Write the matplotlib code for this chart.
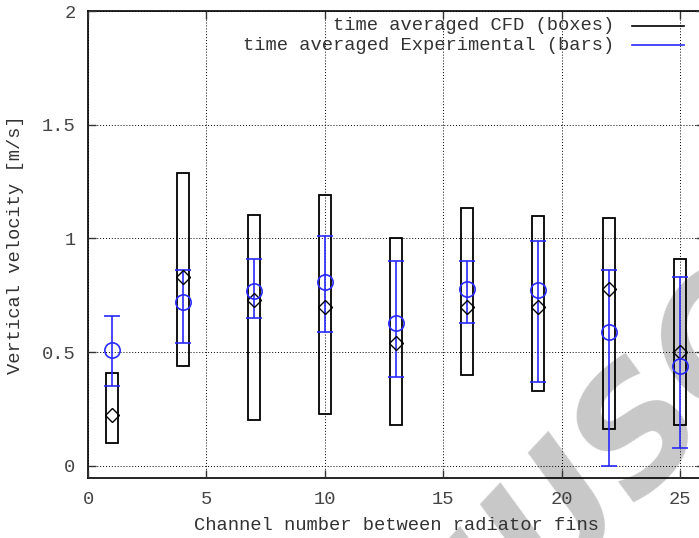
import matplotlib

matplotlib.use("Agg")

import matplotlib.pyplot as plt
from matplotlib.lines import Line2D
from matplotlib.patches import Rectangle

# channel positions
channels = [1, 4, 7, 10, 13, 16, 19, 22, 25]

# CFD (boxes): min, max, mean
cfd_min = [0.10, 0.44, 0.20, 0.23, 0.18, 0.40, 0.33, 0.163, 0.18]
cfd_max = [0.41, 1.286, 1.105, 1.19, 1.00, 1.135, 1.097, 1.09, 0.91]
cfd_mean = [0.225, 0.83, 0.73, 0.70, 0.54, 0.70, 0.70, 0.78, 0.50]

# Experimental (bars): mean, low, high
exp_mean = [0.51, 0.72, 0.77, 0.81, 0.63, 0.78, 0.775, 0.59, 0.44]
exp_low = [0.35, 0.54, 0.65, 0.59, 0.39, 0.63, 0.37, 0.00, 0.08]
exp_high = [0.66, 0.86, 0.91, 1.01, 0.90, 0.90, 0.99, 0.86, 0.83]

FONT = "Liberation Mono"
FS = 13.5
BLUE = "#2a2aff"

W, H = 699, 538
fig = plt.figure(figsize=(W / 100, H / 100), dpi=100)
ax = fig.add_axes([88 / W, 60 / H, 616 / W, 467 / H])
ax.set_xlim(0, 26)
ax.set_ylim(-0.053, 2)

# watermark, behind the data
ax.text(636 / W, 1 - 440 / H, "MANUSCRIPT", transform=fig.transFigure, rotation=47,
        ha="center", va="center", fontsize=115, fontweight="bold", fontstyle="italic",
        family="DejaVu Sans", color="#c8c8c8", zorder=1, clip_on=False)

box_w = 0.5
for x, lo, hi, m in zip(channels, cfd_min, cfd_max, cfd_mean):
    ax.add_patch(Rectangle((x - box_w / 2, lo), box_w, hi - lo, fill=False,
                           edgecolor="black", linewidth=1.3, zorder=3))
ax.plot(channels, cfd_mean, linestyle="none", marker="D", markersize=7,
        markerfacecolor="none", markeredgecolor="black", markeredgewidth=1.0, zorder=5)

yerr = [[m - l for m, l in zip(exp_mean, exp_low)],
        [h - m for m, h in zip(exp_mean, exp_high)]]
ax.errorbar(channels, exp_mean, yerr=yerr, fmt="none", ecolor=BLUE, elinewidth=1.2,
            capsize=6, capthick=1.2, zorder=4)
ax.plot(channels, exp_mean, linestyle="none", marker="o", markersize=11,
        markerfacecolor="none", markeredgecolor=BLUE, markeredgewidth=1.2, zorder=6)

ax.set_xticks([0, 5, 10, 15, 20, 25])
ax.set_yticks([0, 0.5, 1, 1.5, 2])
ax.set_yticklabels(["0", "0.5", "1", "1.5", "2"])
ax.grid(True, color="black", linestyle=(0, (1, 2)), linewidth=0.7, zorder=2)
ax.set_axisbelow(False)
ax.tick_params(direction="in", length=6, width=1, top=True, right=True,
               labelsize=FS, colors="#333333", pad=9)
for lab in ax.get_xticklabels() + ax.get_yticklabels():
    lab.set_family(FONT)
    lab.set_color("#444444")
for s in ax.spines.values():
    s.set_linewidth(1.2)

ax.set_xlabel("Channel number between radiator fins", family=FONT, fontsize=FS,
              color="#333333", labelpad=7)
ax.set_ylabel("Vertical velocity [m/s]", family=FONT, fontsize=FS,
              color="#333333", labelpad=13)

# legend drawn by hand, gnuplot style
for i, (label, col) in enumerate([("time averaged CFD (boxes)", "black"),
                                  ("time averaged Experimental (bars)", BLUE)]):
    y = 1 - (26 + 19 * i) / H
    fig.text(614 / W, y, label, ha="right", va="center", family=FONT,
             fontsize=FS, color="#333333")
    fig.add_artist(Line2D([632 / W, 684 / W], [y, y], color=col, linewidth=1.2))

fig.savefig("out.png", dpi=100)
